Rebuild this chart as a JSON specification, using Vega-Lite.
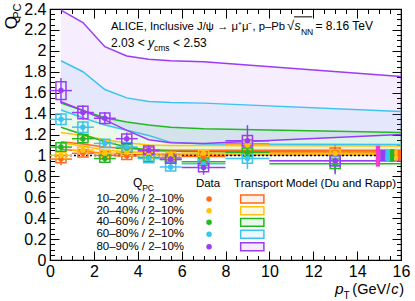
{
  "$schema": "https://vega.github.io/schema/vega-lite/v6.json",
  "width": 351,
  "height": 251,
  "autosize": {"type": "none"},
  "padding": {"left": 50, "top": 9, "right": 14, "bottom": 41},
  "background": "white",
  "data": {"values": [{}]},
  "config": {
    "view": {"stroke": "black", "strokeWidth": 1.2},
    "axis": {"grid": false, "domain": false, "tickColor": "black", "tickWidth": 1, "labelColor": "black", "labelFont": "Liberation Sans", "labelFontSize": 16, "title": null},
    "text": {"font": "Liberation Sans", "color": "black"}
  },
  "resolve": {"axis": {"x": "independent", "y": "independent"}},
  "datasets": {
    "pts": [
      {"c": "10–20%", "pt": 0.5, "lo": 0, "hi": 1, "q": 0.965, "stat": 0.06, "sys": 0.035},
      {"c": "10–20%", "pt": 1.5, "lo": 1, "hi": 2, "q": 1.02, "stat": 0.03, "sys": 0.035},
      {"c": "10–20%", "pt": 2.5, "lo": 2, "hi": 3, "q": 1.0, "stat": 0.03, "sys": 0.035},
      {"c": "10–20%", "pt": 3.5, "lo": 3, "hi": 4, "q": 0.995, "stat": 0.03, "sys": 0.035},
      {"c": "10–20%", "pt": 4.5, "lo": 4, "hi": 5, "q": 1.04, "stat": 0.035, "sys": 0.035},
      {"c": "10–20%", "pt": 5.5, "lo": 5, "hi": 6, "q": 0.98, "stat": 0.04, "sys": 0.035},
      {"c": "10–20%", "pt": 7, "lo": 6, "hi": 8, "q": 0.99, "stat": 0.04, "sys": 0.035},
      {"c": "10–20%", "pt": 9, "lo": 8, "hi": 10, "q": 1.11, "stat": 0.08, "sys": 0.04},
      {"c": "10–20%", "pt": 13, "lo": 10, "hi": 16, "q": 1.03, "stat": 0.07, "sys": 0.04},
      {"c": "20–40%", "pt": 0.5, "lo": 0, "hi": 1, "q": 1.0, "stat": 0.04, "sys": 0.03},
      {"c": "20–40%", "pt": 1.5, "lo": 1, "hi": 2, "q": 1.05, "stat": 0.03, "sys": 0.03},
      {"c": "20–40%", "pt": 2.5, "lo": 2, "hi": 3, "q": 1.02, "stat": 0.03, "sys": 0.03},
      {"c": "20–40%", "pt": 3.5, "lo": 3, "hi": 4, "q": 1.03, "stat": 0.03, "sys": 0.03},
      {"c": "20–40%", "pt": 4.5, "lo": 4, "hi": 5, "q": 1.0, "stat": 0.03, "sys": 0.03},
      {"c": "20–40%", "pt": 5.5, "lo": 5, "hi": 6, "q": 1.0, "stat": 0.04, "sys": 0.03},
      {"c": "20–40%", "pt": 7, "lo": 6, "hi": 8, "q": 1.02, "stat": 0.04, "sys": 0.03},
      {"c": "20–40%", "pt": 9, "lo": 8, "hi": 10, "q": 1.1, "stat": 0.08, "sys": 0.035},
      {"c": "20–40%", "pt": 13, "lo": 10, "hi": 16, "q": 1.02, "stat": 0.07, "sys": 0.035},
      {"c": "40–60%", "pt": 0.5, "lo": 0, "hi": 1, "q": 1.08, "stat": 0.04, "sys": 0.04},
      {"c": "40–60%", "pt": 1.5, "lo": 1, "hi": 2, "q": 1.16, "stat": 0.05, "sys": 0.04},
      {"c": "40–60%", "pt": 2.5, "lo": 2, "hi": 3, "q": 0.97, "stat": 0.04, "sys": 0.035},
      {"c": "40–60%", "pt": 3.5, "lo": 3, "hi": 4, "q": 1.07, "stat": 0.04, "sys": 0.035},
      {"c": "40–60%", "pt": 4.5, "lo": 4, "hi": 5, "q": 0.98, "stat": 0.04, "sys": 0.035},
      {"c": "40–60%", "pt": 5.5, "lo": 5, "hi": 6, "q": 0.96, "stat": 0.04, "sys": 0.035},
      {"c": "40–60%", "pt": 7, "lo": 6, "hi": 8, "q": 0.94, "stat": 0.05, "sys": 0.035},
      {"c": "40–60%", "pt": 9, "lo": 8, "hi": 10, "q": 1.03, "stat": 0.09, "sys": 0.04},
      {"c": "40–60%", "pt": 13, "lo": 10, "hi": 16, "q": 0.92, "stat": 0.08, "sys": 0.045},
      {"c": "60–80%", "pt": 0.5, "lo": 0, "hi": 1, "q": 1.345, "stat": 0.06, "sys": 0.05},
      {"c": "60–80%", "pt": 1.5, "lo": 1, "hi": 2, "q": 1.27, "stat": 0.06, "sys": 0.05},
      {"c": "60–80%", "pt": 2.5, "lo": 2, "hi": 3, "q": 1.115, "stat": 0.04, "sys": 0.04},
      {"c": "60–80%", "pt": 3.5, "lo": 3, "hi": 4, "q": 1.08, "stat": 0.04, "sys": 0.04},
      {"c": "60–80%", "pt": 4.5, "lo": 4, "hi": 5, "q": 0.97, "stat": 0.04, "sys": 0.04},
      {"c": "60–80%", "pt": 5.5, "lo": 5, "hi": 6, "q": 0.89, "stat": 0.04, "sys": 0.04},
      {"c": "60–80%", "pt": 7, "lo": 6, "hi": 8, "q": 0.92, "stat": 0.05, "sys": 0.04},
      {"c": "60–80%", "pt": 9, "lo": 8, "hi": 10, "q": 0.97, "stat": 0.1, "sys": 0.045},
      {"c": "60–80%", "pt": 13, "lo": 10, "hi": 16, "q": 0.95, "stat": 0.1, "sys": 0.045},
      {"c": "80–90%", "pt": 0.5, "lo": 0, "hi": 1, "q": 1.62, "stat": 0.12, "sys": 0.085},
      {"c": "80–90%", "pt": 1.5, "lo": 1, "hi": 2, "q": 1.41, "stat": 0.07, "sys": 0.06},
      {"c": "80–90%", "pt": 2.5, "lo": 2, "hi": 3, "q": 1.355, "stat": 0.06, "sys": 0.05},
      {"c": "80–90%", "pt": 3.5, "lo": 3, "hi": 4, "q": 1.16, "stat": 0.06, "sys": 0.045},
      {"c": "80–90%", "pt": 4.5, "lo": 4, "hi": 5, "q": 1.05, "stat": 0.05, "sys": 0.04},
      {"c": "80–90%", "pt": 5.5, "lo": 5, "hi": 6, "q": 0.965, "stat": 0.05, "sys": 0.04},
      {"c": "80–90%", "pt": 7, "lo": 6, "hi": 8, "q": 0.885, "stat": 0.07, "sys": 0.04},
      {"c": "80–90%", "pt": 9, "lo": 8, "hi": 10, "q": 1.14, "stat": 0.15, "sys": 0.05},
      {"c": "80–90%", "pt": 13, "lo": 10, "hi": 16, "q": 0.95, "stat": 0.13, "sys": 0.05}
    ],
    "model": [
      {"c": "10–20%", "pt": 0.5, "up": 1.13, "dn": 1.06},
      {"c": "10–20%", "pt": 1.5, "up": 1.11, "dn": 1.04},
      {"c": "10–20%", "pt": 2.5, "up": 1.08, "dn": 1.02},
      {"c": "10–20%", "pt": 3.5, "up": 1.065, "dn": 1.01},
      {"c": "10–20%", "pt": 4.5, "up": 1.055, "dn": 1.005},
      {"c": "10–20%", "pt": 5.5, "up": 1.05, "dn": 1.005},
      {"c": "10–20%", "pt": 7, "up": 1.05, "dn": 1.005},
      {"c": "10–20%", "pt": 16, "up": 1.05, "dn": 1.005},
      {"c": "20–40%", "pt": 0.5, "up": 1.22, "dn": 1.12},
      {"c": "20–40%", "pt": 1.5, "up": 1.19, "dn": 1.09},
      {"c": "20–40%", "pt": 2.5, "up": 1.15, "dn": 1.05},
      {"c": "20–40%", "pt": 3.5, "up": 1.12, "dn": 1.035},
      {"c": "20–40%", "pt": 4.5, "up": 1.1, "dn": 1.02},
      {"c": "20–40%", "pt": 5.5, "up": 1.095, "dn": 1.015},
      {"c": "20–40%", "pt": 7, "up": 1.095, "dn": 1.015},
      {"c": "20–40%", "pt": 16, "up": 1.09, "dn": 1.01},
      {"c": "40–60%", "pt": 0.5, "up": 1.5, "dn": 1.27},
      {"c": "40–60%", "pt": 1.5, "up": 1.43, "dn": 1.2},
      {"c": "40–60%", "pt": 2.5, "up": 1.36, "dn": 1.13},
      {"c": "40–60%", "pt": 3.5, "up": 1.32, "dn": 1.08},
      {"c": "40–60%", "pt": 4.5, "up": 1.29, "dn": 1.05},
      {"c": "40–60%", "pt": 5.5, "up": 1.27, "dn": 1.04},
      {"c": "40–60%", "pt": 7, "up": 1.255, "dn": 1.035},
      {"c": "40–60%", "pt": 16, "up": 1.22, "dn": 1.03},
      {"c": "60–80%", "pt": 0.5, "up": 1.905, "dn": 1.434},
      {"c": "60–80%", "pt": 1.5, "up": 1.8, "dn": 1.36},
      {"c": "60–80%", "pt": 2.5, "up": 1.63, "dn": 1.29},
      {"c": "60–80%", "pt": 3.5, "up": 1.55, "dn": 1.24},
      {"c": "60–80%", "pt": 4.5, "up": 1.515, "dn": 1.19},
      {"c": "60–80%", "pt": 5.5, "up": 1.505, "dn": 1.125},
      {"c": "60–80%", "pt": 7, "up": 1.5, "dn": 1.11},
      {"c": "60–80%", "pt": 16, "up": 1.42, "dn": 1.105},
      {"c": "80–90%", "pt": 0.5, "up": 2.39, "dn": 1.513},
      {"c": "80–90%", "pt": 1.5, "up": 2.27, "dn": 1.43},
      {"c": "80–90%", "pt": 2.5, "up": 2.04, "dn": 1.34},
      {"c": "80–90%", "pt": 3.5, "up": 1.95, "dn": 1.24},
      {"c": "80–90%", "pt": 4.5, "up": 1.92, "dn": 1.15},
      {"c": "80–90%", "pt": 5.5, "up": 1.905, "dn": 1.12},
      {"c": "80–90%", "pt": 7, "up": 1.895, "dn": 1.115},
      {"c": "80–90%", "pt": 16, "up": 1.755, "dn": 1.2}
    ],
    "glob": [
      {"c": "global", "p0": 14.85, "p1": 15.05, "lo": 0.893, "hi": 1.093},
      {"c": "80–90%", "p0": 15.05, "p1": 15.3, "lo": 0.945, "hi": 1.055},
      {"c": "60–80%", "p0": 15.3, "p1": 15.5, "lo": 0.94, "hi": 1.06},
      {"c": "40–60%", "p0": 15.5, "p1": 15.7, "lo": 0.94, "hi": 1.06},
      {"c": "20–40%", "p0": 15.7, "p1": 15.85, "lo": 0.95, "hi": 1.05},
      {"c": "10–20%", "p0": 15.85, "p1": 16.0, "lo": 0.95, "hi": 1.05}
    ]
  },
  "layer": [
    {
      "data": {"name": "pts"},
      "mark": {"type": "point", "opacity": 0},
      "encoding": {
        "x": {"field": "pt", "type": "quantitative", "scale": {"domain": [0, 16], "nice": false, "zero": false},
              "axis": {"orient": "bottom", "values": [0, 2, 4, 6, 8, 10, 12, 14, 16], "ticks": false, "labelPadding": 3, "labelFlush": false, "labelOverlap": false}},
        "y": {"field": "q", "type": "quantitative", "scale": {"domain": [0, 2.4], "nice": false, "zero": false},
              "axis": {"orient": "left", "values": [0, 0.2, 0.4, 0.6, 0.8, 1, 1.2, 1.4, 1.6, 1.8, 2, 2.2, 2.4], "ticks": false, "labelPadding": 4, "format": "~g", "labelFlush": false, "labelOverlap": false}}
      }
    },
    {
      "data": {"name": "pts"},
      "mark": {"type": "point", "opacity": 0},
      "encoding": {
        "x": {"field": "pt", "type": "quantitative", "axis": {"orient": "bottom", "values": [0, 2, 4, 6, 8, 10, 12, 14, 16], "labels": false, "tickSize": -9}},
        "y": {"field": "q", "type": "quantitative", "axis": {"orient": "left", "values": [0, 0.2, 0.4, 0.6, 0.8, 1, 1.2, 1.4, 1.6, 1.8, 2, 2.2, 2.4], "labels": false, "tickSize": -9}}
      }
    },
    {
      "data": {"name": "pts"},
      "mark": {"type": "point", "opacity": 0},
      "encoding": {
        "x": {"field": "pt", "type": "quantitative", "axis": {"orient": "bottom", "values": [0, 0.5, 1, 1.5, 2, 2.5, 3, 3.5, 4, 4.5, 5, 5.5, 6, 6.5, 7, 7.5, 8, 8.5, 9, 9.5, 10, 10.5, 11, 11.5, 12, 12.5, 13, 13.5, 14, 14.5, 15, 15.5, 16], "labels": false, "tickSize": -4.5}},
        "y": {"field": "q", "type": "quantitative", "axis": {"orient": "left", "values": [0, 0.05, 0.1, 0.15, 0.2, 0.25, 0.3, 0.35, 0.4, 0.45, 0.5, 0.55, 0.6, 0.65, 0.7, 0.75, 0.8, 0.85, 0.9, 0.95, 1, 1.05, 1.1, 1.15, 1.2, 1.25, 1.3, 1.35, 1.4, 1.45, 1.5, 1.55, 1.6, 1.65, 1.7, 1.75, 1.8, 1.85, 1.9, 1.95, 2, 2.05, 2.1, 2.15, 2.2, 2.25, 2.3, 2.35, 2.4], "labels": false, "tickSize": -4.5}}
      }
    },
    {
      "data": {"name": "pts"},
      "mark": {"type": "point", "opacity": 0},
      "encoding": {
        "x": {"field": "pt", "type": "quantitative", "axis": {"orient": "top", "values": [0, 2, 4, 6, 8, 10, 12, 14, 16], "labels": false, "tickSize": -9}},
        "y": {"field": "q", "type": "quantitative", "axis": {"orient": "right", "values": [0, 0.2, 0.4, 0.6, 0.8, 1, 1.2, 1.4, 1.6, 1.8, 2, 2.2, 2.4], "labels": false, "tickSize": -9}}
      }
    },
    {
      "data": {"name": "pts"},
      "mark": {"type": "point", "opacity": 0},
      "encoding": {
        "x": {"field": "pt", "type": "quantitative", "axis": {"orient": "top", "values": [0, 0.5, 1, 1.5, 2, 2.5, 3, 3.5, 4, 4.5, 5, 5.5, 6, 6.5, 7, 7.5, 8, 8.5, 9, 9.5, 10, 10.5, 11, 11.5, 12, 12.5, 13, 13.5, 14, 14.5, 15, 15.5, 16], "labels": false, "tickSize": -4.5}},
        "y": {"field": "q", "type": "quantitative", "axis": {"orient": "right", "values": [0, 0.05, 0.1, 0.15, 0.2, 0.25, 0.3, 0.35, 0.4, 0.45, 0.5, 0.55, 0.6, 0.65, 0.7, 0.75, 0.8, 0.85, 0.9, 0.95, 1, 1.05, 1.1, 1.15, 1.2, 1.25, 1.3, 1.35, 1.4, 1.45, 1.5, 1.55, 1.6, 1.65, 1.7, 1.75, 1.8, 1.85, 1.9, 1.95, 2, 2.05, 2.1, 2.15, 2.2, 2.25, 2.3, 2.35, 2.4], "labels": false, "tickSize": -4.5}}
      }
    },
    {
      "data": {"name": "model"},
      "mark": {"type": "area", "fillOpacity": 0.09},
      "encoding": {
        "x": {"field": "pt", "type": "quantitative", "axis": null},
        "y": {"field": "dn", "type": "quantitative", "axis": null, "stack": null},
        "y2": {"field": "up"},
        "color": {"field": "c", "type": "nominal", "legend": null, "scale": {"domain": ["10–20%", "20–40%", "40–60%", "60–80%", "80–90%", "global"], "range": ["#FF6A1F", "#FFC20E", "#22B822", "#3CC3F0", "#9A3CF5", "#F53ACB"]}}
      }
    },
    {
      "data": {"name": "model"},
      "mark": {"type": "line", "strokeWidth": 1.5},
      "encoding": {
        "x": {"field": "pt", "type": "quantitative", "axis": null},
        "y": {"field": "up", "type": "quantitative", "axis": null},
        "color": {"field": "c", "type": "nominal", "legend": null}
      }
    },
    {
      "data": {"name": "model"},
      "mark": {"type": "line", "strokeWidth": 1.5},
      "encoding": {
        "x": {"field": "pt", "type": "quantitative", "axis": null},
        "y": {"field": "dn", "type": "quantitative", "axis": null},
        "color": {"field": "c", "type": "nominal", "legend": null}
      }
    },
    {
      "mark": {"type": "rule", "color": "black", "strokeDash": [2, 2], "strokeWidth": 1.5},
      "encoding": {
        "x": {"datum": 0, "type": "quantitative", "axis": null},
        "x2": {"datum": 16},
        "y": {"datum": 1, "type": "quantitative", "axis": null}
      }
    },
    {
      "data": {"name": "pts"},
      "mark": {"type": "rule", "strokeWidth": 1.5},
      "encoding": {
        "x": {"field": "lo", "type": "quantitative", "axis": null},
        "x2": {"field": "hi"},
        "y": {"field": "q", "type": "quantitative", "axis": null},
        "color": {"field": "c", "type": "nominal", "legend": null}
      }
    },
    {
      "data": {"name": "pts"},
      "transform": [
        {"calculate": "datum.q - datum.stat", "as": "slo"},
        {"calculate": "datum.q + datum.stat", "as": "shi"}
      ],
      "mark": {"type": "rule", "strokeWidth": 1.5},
      "encoding": {
        "x": {"field": "pt", "type": "quantitative", "axis": null},
        "y": {"field": "slo", "type": "quantitative", "axis": null},
        "y2": {"field": "shi"},
        "color": {"field": "c", "type": "nominal", "legend": null}
      }
    },
    {
      "data": {"name": "pts"},
      "transform": [
        {"calculate": "datum.pt - 0.23", "as": "bx0"},
        {"calculate": "datum.pt + 0.23", "as": "bx1"},
        {"calculate": "datum.q - datum.sys", "as": "by0"},
        {"calculate": "datum.q + datum.sys", "as": "by1"}
      ],
      "mark": {"type": "rect", "filled": false, "strokeWidth": 1.5},
      "encoding": {
        "x": {"field": "bx0", "type": "quantitative", "axis": null},
        "x2": {"field": "bx1"},
        "y": {"field": "by0", "type": "quantitative", "axis": null},
        "y2": {"field": "by1"},
        "color": {"field": "c", "type": "nominal", "legend": null}
      }
    },
    {
      "data": {"name": "pts"},
      "mark": {"type": "circle", "size": 30, "opacity": 1},
      "encoding": {
        "x": {"field": "pt", "type": "quantitative", "axis": null},
        "y": {"field": "q", "type": "quantitative", "axis": null},
        "color": {"field": "c", "type": "nominal", "legend": null}
      }
    },
    {
      "data": {"name": "glob"},
      "mark": {"type": "rect", "opacity": 1},
      "encoding": {
        "x": {"field": "p0", "type": "quantitative", "axis": null},
        "x2": {"field": "p1"},
        "y": {"field": "lo", "type": "quantitative", "axis": null},
        "y2": {"field": "hi"},
        "color": {"field": "c", "type": "nominal", "legend": null}
      }
    },
    {
      "mark": {"type": "text", "text": "ALICE, Inclusive J/ψ → μ⁺μ⁻, p–Pb", "align": "left", "baseline": "alphabetic", "fontSize": 11.3},
      "encoding": {"x": {"datum": 2.78, "type": "quantitative", "axis": null}, "y": {"datum": 2.199, "type": "quantitative", "axis": null}}
    },
    {
      "mark": {"type": "text", "text": "√", "align": "left", "baseline": "alphabetic", "fontSize": 13},
      "encoding": {"x": {"datum": 10.8, "type": "quantitative", "axis": null}, "y": {"datum": 2.199, "type": "quantitative", "axis": null}}
    },
    {
      "mark": {"type": "rule", "color": "black", "strokeWidth": 1},
      "encoding": {"x": {"datum": 11.12, "type": "quantitative", "axis": null}, "x2": {"datum": 11.95}, "y": {"datum": 2.325, "type": "quantitative", "axis": null}}
    },
    {
      "mark": {"type": "text", "text": "s", "align": "left", "baseline": "alphabetic", "fontSize": 12, "fontStyle": "italic"},
      "encoding": {"x": {"datum": 11.14, "type": "quantitative", "axis": null}, "y": {"datum": 2.199, "type": "quantitative", "axis": null}}
    },
    {
      "mark": {"type": "text", "text": "NN", "align": "left", "baseline": "alphabetic", "fontSize": 8.5},
      "encoding": {"x": {"datum": 11.44, "type": "quantitative", "axis": null}, "y": {"datum": 2.15, "type": "quantitative", "axis": null}}
    },
    {
      "mark": {"type": "text", "text": "= 8.16 TeV", "align": "left", "baseline": "alphabetic", "fontSize": 12},
      "encoding": {"x": {"datum": 12.1, "type": "quantitative", "axis": null}, "y": {"datum": 2.199, "type": "quantitative", "axis": null}}
    },
    {
      "mark": {"type": "text", "text": "2.03 <", "align": "left", "baseline": "alphabetic", "fontSize": 12},
      "encoding": {"x": {"datum": 2.78, "type": "quantitative", "axis": null}, "y": {"datum": 2.041, "type": "quantitative", "axis": null}}
    },
    {
      "mark": {"type": "text", "text": "y", "align": "left", "baseline": "alphabetic", "fontSize": 12, "fontStyle": "italic"},
      "encoding": {"x": {"datum": 4.47, "type": "quantitative", "axis": null}, "y": {"datum": 2.041, "type": "quantitative", "axis": null}}
    },
    {
      "mark": {"type": "text", "text": "cms", "align": "left", "baseline": "alphabetic", "fontSize": 8.5},
      "encoding": {"x": {"datum": 4.74, "type": "quantitative", "axis": null}, "y": {"datum": 2.0, "type": "quantitative", "axis": null}}
    },
    {
      "mark": {"type": "text", "text": "< 2.53", "align": "left", "baseline": "alphabetic", "fontSize": 12},
      "encoding": {"x": {"datum": 5.61, "type": "quantitative", "axis": null}, "y": {"datum": 2.041, "type": "quantitative", "axis": null}}
    },
    {
      "mark": {"type": "text", "text": "Q", "align": "center", "baseline": "middle", "fontSize": 17, "angle": 270},
      "encoding": {"x": {"datum": -1.75, "type": "quantitative", "axis": null}, "y": {"datum": 2.27, "type": "quantitative", "axis": null}}
    },
    {
      "mark": {"type": "text", "text": "PC", "align": "center", "baseline": "middle", "fontSize": 11, "angle": 270},
      "encoding": {"x": {"datum": -1.45, "type": "quantitative", "axis": null}, "y": {"datum": 2.38, "type": "quantitative", "axis": null}}
    },
    {
      "mark": {"type": "text", "text": "p", "align": "left", "baseline": "alphabetic", "fontSize": 15.5, "fontStyle": "italic"},
      "encoding": {"x": {"datum": 12.99, "type": "quantitative", "axis": null}, "y": {"datum": -0.325, "type": "quantitative", "axis": null}}
    },
    {
      "mark": {"type": "text", "text": "T", "align": "left", "baseline": "alphabetic", "fontSize": 10},
      "encoding": {"x": {"datum": 13.38, "type": "quantitative", "axis": null}, "y": {"datum": -0.37, "type": "quantitative", "axis": null}}
    },
    {
      "mark": {"type": "text", "text": "(GeV/", "align": "left", "baseline": "alphabetic", "fontSize": 14.5},
      "encoding": {"x": {"datum": 13.78, "type": "quantitative", "axis": null}, "y": {"datum": -0.325, "type": "quantitative", "axis": null}}
    },
    {
      "mark": {"type": "text", "text": "c", "align": "left", "baseline": "alphabetic", "fontSize": 14.5, "fontStyle": "italic"},
      "encoding": {"x": {"datum": 15.56, "type": "quantitative", "axis": null}, "y": {"datum": -0.325, "type": "quantitative", "axis": null}}
    },
    {
      "mark": {"type": "text", "text": ")", "align": "left", "baseline": "alphabetic", "fontSize": 14.5},
      "encoding": {"x": {"datum": 15.92, "type": "quantitative", "axis": null}, "y": {"datum": -0.325, "type": "quantitative", "axis": null}}
    },
    {
      "mark": {"type": "text", "text": "Q", "align": "left", "baseline": "alphabetic", "fontSize": 12},
      "encoding": {"x": {"datum": 3.78, "type": "quantitative", "axis": null}, "y": {"datum": 0.698, "type": "quantitative", "axis": null}}
    },
    {
      "mark": {"type": "text", "text": "PC", "align": "left", "baseline": "alphabetic", "fontSize": 8.5},
      "encoding": {"x": {"datum": 4.2, "type": "quantitative", "axis": null}, "y": {"datum": 0.66, "type": "quantitative", "axis": null}}
    },
    {
      "mark": {"type": "text", "text": "Data", "align": "left", "baseline": "alphabetic", "fontSize": 11.5},
      "encoding": {"x": {"datum": 6.65, "type": "quantitative", "axis": null}, "y": {"datum": 0.698, "type": "quantitative", "axis": null}}
    },
    {
      "mark": {"type": "text", "text": "Transport Model (Du and Rapp)", "align": "left", "baseline": "alphabetic", "fontSize": 11.5},
      "encoding": {"x": {"datum": 8.39, "type": "quantitative", "axis": null}, "y": {"datum": 0.698, "type": "quantitative", "axis": null}}
    },
    {
      "mark": {"type": "text", "text": "10–20% / 2–10%", "align": "right", "baseline": "middle", "fontSize": 11.5},
      "encoding": {"x": {"datum": 6.11, "type": "quantitative", "axis": null}, "y": {"datum": 0.583, "type": "quantitative", "axis": null}}
    },
    {
      "mark": {"type": "text", "text": "20–40% / 2–10%", "align": "right", "baseline": "middle", "fontSize": 11.5},
      "encoding": {"x": {"datum": 6.11, "type": "quantitative", "axis": null}, "y": {"datum": 0.471, "type": "quantitative", "axis": null}}
    },
    {
      "mark": {"type": "text", "text": "40–60% / 2–10%", "align": "right", "baseline": "middle", "fontSize": 11.5},
      "encoding": {"x": {"datum": 6.11, "type": "quantitative", "axis": null}, "y": {"datum": 0.36, "type": "quantitative", "axis": null}}
    },
    {
      "mark": {"type": "text", "text": "60–80% / 2–10%", "align": "right", "baseline": "middle", "fontSize": 11.5},
      "encoding": {"x": {"datum": 6.11, "type": "quantitative", "axis": null}, "y": {"datum": 0.246, "type": "quantitative", "axis": null}}
    },
    {
      "mark": {"type": "text", "text": "80–90% / 2–10%", "align": "right", "baseline": "middle", "fontSize": 11.5},
      "encoding": {"x": {"datum": 6.11, "type": "quantitative", "axis": null}, "y": {"datum": 0.127, "type": "quantitative", "axis": null}}
    },
    {
      "mark": {"type": "circle", "size": 30, "opacity": 1, "color": "#FF6A1F"},
      "encoding": {"x": {"datum": 7.25, "type": "quantitative", "axis": null}, "y": {"datum": 0.583, "type": "quantitative", "axis": null}}
    },
    {
      "mark": {"type": "circle", "size": 30, "opacity": 1, "color": "#FFC20E"},
      "encoding": {"x": {"datum": 7.25, "type": "quantitative", "axis": null}, "y": {"datum": 0.471, "type": "quantitative", "axis": null}}
    },
    {
      "mark": {"type": "circle", "size": 30, "opacity": 1, "color": "#22B822"},
      "encoding": {"x": {"datum": 7.25, "type": "quantitative", "axis": null}, "y": {"datum": 0.36, "type": "quantitative", "axis": null}}
    },
    {
      "mark": {"type": "circle", "size": 30, "opacity": 1, "color": "#3CC3F0"},
      "encoding": {"x": {"datum": 7.25, "type": "quantitative", "axis": null}, "y": {"datum": 0.246, "type": "quantitative", "axis": null}}
    },
    {
      "mark": {"type": "circle", "size": 30, "opacity": 1, "color": "#9A3CF5"},
      "encoding": {"x": {"datum": 7.25, "type": "quantitative", "axis": null}, "y": {"datum": 0.127, "type": "quantitative", "axis": null}}
    },
    {
      "mark": {"type": "rect", "stroke": "#FF6A1F", "fill": "#FF6A1F", "fillOpacity": 0.1, "strokeWidth": 1.5},
      "encoding": {"x": {"datum": 8.69, "type": "quantitative", "axis": null}, "x2": {"datum": 9.75}, "y": {"datum": 0.545, "type": "quantitative", "axis": null}, "y2": {"datum": 0.621}}
    },
    {
      "mark": {"type": "rect", "stroke": "#FFC20E", "fill": "#FFC20E", "fillOpacity": 0.1, "strokeWidth": 1.5},
      "encoding": {"x": {"datum": 8.69, "type": "quantitative", "axis": null}, "x2": {"datum": 9.75}, "y": {"datum": 0.433, "type": "quantitative", "axis": null}, "y2": {"datum": 0.509}}
    },
    {
      "mark": {"type": "rect", "stroke": "#22B822", "fill": "#22B822", "fillOpacity": 0.1, "strokeWidth": 1.5},
      "encoding": {"x": {"datum": 8.69, "type": "quantitative", "axis": null}, "x2": {"datum": 9.75}, "y": {"datum": 0.322, "type": "quantitative", "axis": null}, "y2": {"datum": 0.398}}
    },
    {
      "mark": {"type": "rect", "stroke": "#3CC3F0", "fill": "#3CC3F0", "fillOpacity": 0.1, "strokeWidth": 1.5},
      "encoding": {"x": {"datum": 8.69, "type": "quantitative", "axis": null}, "x2": {"datum": 9.75}, "y": {"datum": 0.208, "type": "quantitative", "axis": null}, "y2": {"datum": 0.284}}
    },
    {
      "mark": {"type": "rect", "stroke": "#9A3CF5", "fill": "#9A3CF5", "fillOpacity": 0.1, "strokeWidth": 1.5},
      "encoding": {"x": {"datum": 8.69, "type": "quantitative", "axis": null}, "x2": {"datum": 9.75}, "y": {"datum": 0.089, "type": "quantitative", "axis": null}, "y2": {"datum": 0.165}}
    }
  ]
}
